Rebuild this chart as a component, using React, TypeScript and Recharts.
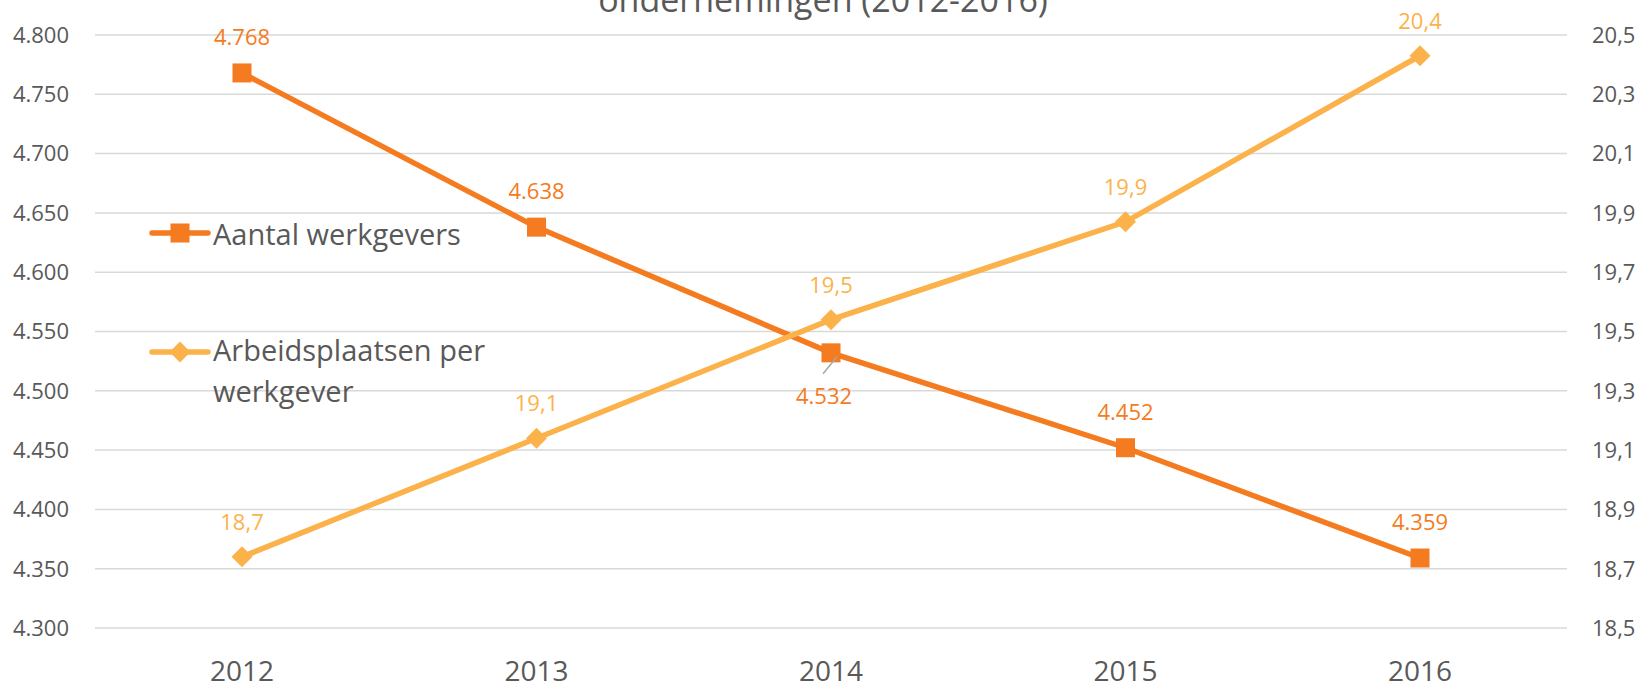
import React from 'react';
import { LineChart, Line, XAxis, YAxis, CartesianGrid } from 'recharts';

const years = ['2012', '2013', '2014', '2015', '2016'];
const werkgevers = [4768, 4638, 4532, 4452, 4359];
const perWerkgever = [18.74, 19.14, 19.54, 19.87, 20.43];
const leftTicks = [4300, 4350, 4400, 4450, 4500, 4550, 4600, 4650, 4700, 4750, 4800];
const rightTicks = [18.5, 18.7, 18.9, 19.1, 19.3, 19.5, 19.7, 19.9, 20.1, 20.3, 20.5];
const titleText = 'ondernemingen (2012-2016)';
const seriesNames = ['Aantal werkgevers', 'Arbeidsplaatsen per', 'werkgever'];

const data = years.map((y, i) => ({ year: y, werkgevers: werkgevers[i], per: perWerkgever[i] }));

const C1 = '#F47B20';
const C2 = '#FBB24A';
const GREY = '#595959';
const FONT = '"Open Sans", sans-serif';

const fmtThousands = (v: number) => {
  const t = Math.floor(v / 1000);
  const r = String(Math.round(v % 1000)).padStart(3, '0');
  return `${t}.${r}`;
};
const fmtDec = (v: number) => v.toFixed(1).replace('.', ',');

const SquareDot = (props: any) => {
  const { cx, cy, index } = props;
  if (cx == null || cy == null) return <g key={`s-${index}`} />;
  return <rect key={`s-${index}`} x={cx - 9.5} y={cy - 9.5} width={19} height={19} fill={C1} />;
};

const DiamondDot = (props: any) => {
  const { cx, cy, index } = props;
  if (cx == null || cy == null) return <g key={`d-${index}`} />;
  const r = 10.5;
  return (
    <polygon
      key={`d-${index}`}
      points={`${cx},${cy - r} ${cx + r},${cy} ${cx},${cy + r} ${cx - r},${cy}`}
      fill={C2}
    />
  );
};

const WerkLabel = (props: any) => {
  const { x, y, value, index } = props;
  if (index === 2) {
    return (
      <g key={`wl-${index}`}>
        <line x1={x + 6} y1={y + 4} x2={x - 8} y2={y + 21} stroke="#A6A6A6" strokeWidth={1.5} />
        <text x={x - 7} y={y + 51} textAnchor="middle" fill={C1} fontSize={22} fontFamily={FONT}>
          {fmtThousands(value)}
        </text>
      </g>
    );
  }
  return (
    <text key={`wl-${index}`} x={x} y={y - 28} textAnchor="middle" fill={C1} fontSize={22} fontFamily={FONT}>
      {fmtThousands(value)}
    </text>
  );
};

const PerLabel = (props: any) => {
  const { x, y, value, index } = props;
  return (
    <text key={`pl-${index}`} x={x} y={y - 27} textAnchor="middle" fill={C2} fontSize={22} fontFamily={FONT}>
      {fmtDec(value)}
    </text>
  );
};

export default function App() {
  return (
    <div style={{ position: 'absolute', left: 0, top: 0, width: 1636, height: 689, background: '#fff', overflow: 'hidden' }}>
      <LineChart
        width={1636}
        height={689}
        data={data}
        margin={{ top: 35, right: 0, bottom: 0, left: 0 }}
        style={{ fontFamily: FONT }}
      >
        <CartesianGrid vertical={false} stroke="#D9D9D9" strokeWidth={1.5} yAxisId="left" />
        <XAxis
          dataKey="year"
          axisLine={false}
          tickLine={false}
          tickSize={0}
          tickMargin={33}
          height={61}
          padding={{ left: 147, right: 147 }}
          tick={{ fill: GREY, fontSize: 28, fontFamily: FONT }}
          interval={0}
        />
        <YAxis
          yAxisId="left"
          orientation="left"
          width={95}
          domain={[4300, 4800]}
          ticks={leftTicks}
          axisLine={false}
          tickLine={false}
          tickSize={0}
          tickMargin={26}
          tickFormatter={fmtThousands}
          tick={{ fill: GREY, fontSize: 22, fontFamily: FONT }}
          interval={0}
        />
        <YAxis
          yAxisId="right"
          orientation="right"
          width={69}
          domain={[18.5, 20.5]}
          ticks={rightTicks}
          axisLine={false}
          tickLine={false}
          tickSize={0}
          tickMargin={25}
          tickFormatter={fmtDec}
          tick={{ fill: GREY, fontSize: 22, fontFamily: FONT, textAnchor: 'start' }}
          interval={0}
        />
        <Line
          yAxisId="left"
          dataKey="werkgevers"
          stroke={C1}
          strokeWidth={5.5}
          dot={SquareDot}
          activeDot={false}
          label={WerkLabel}
          isAnimationActive={false}
        />
        <Line
          yAxisId="right"
          dataKey="per"
          stroke={C2}
          strokeWidth={5.5}
          dot={DiamondDot}
          activeDot={false}
          label={PerLabel}
          isAnimationActive={false}
        />
      </LineChart>
      <svg
        width={1636}
        height={689}
        style={{ position: 'absolute', left: 0, top: 0, pointerEvents: 'none' }}
      >
        <text x={823} y={12} textAnchor="middle" fill={GREY} fontSize={34} fontFamily={FONT}>
          {titleText}
        </text>
        <line x1={152} y1={233} x2={208} y2={233} stroke={C1} strokeWidth={5.5} strokeLinecap="round" />
        <rect x={170.5} y={223.5} width={19} height={19} fill={C1} />
        <text x={213} y={245} fill={GREY} fontSize={29} fontFamily={FONT}>
          {seriesNames[0]}
        </text>
        <line x1={152} y1={352} x2={208} y2={352} stroke={C2} strokeWidth={5.5} strokeLinecap="round" />
        <polygon points="180,341.5 190.5,352 180,362.5 169.5,352" fill={C2} />
        <text x={213} y={361} fill={GREY} fontSize={29} fontFamily={FONT}>
          {seriesNames[1]}
        </text>
        <text x={213} y={402} fill={GREY} fontSize={29} fontFamily={FONT}>
          {seriesNames[2]}
        </text>
      </svg>
    </div>
  );
}
